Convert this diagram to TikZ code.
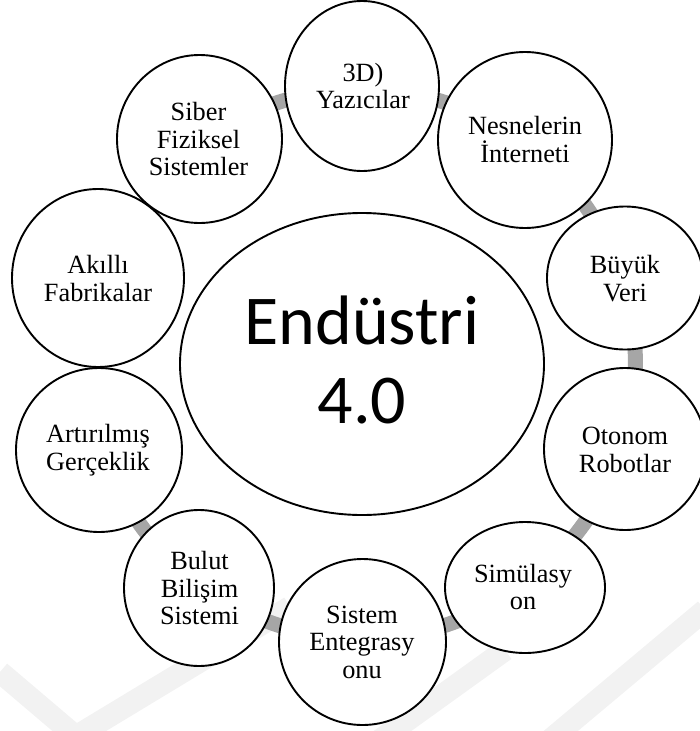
\documentclass[tikz,border=0pt]{standalone}
\usepackage{fontspec}
\setmainfont{Liberation Serif}
\newfontfamily\calib{Carlito}
\usetikzlibrary{shapes.geometric}
\pgfdeclarelayer{bg}
\pgfsetlayers{bg,main}
\definecolor{ringgray}{HTML}{A6A6A6}
\definecolor{wmgray}{HTML}{F2F2F2}
\tikzset{
  bub/.style={draw=black, line width=1.9pt, fill=white, ellipse, inner sep=0pt},
  lbl/.style={align=center, font=\fontsize{26.3}{27.5}\selectfont, inner sep=0pt},
  ring/.style={draw=ringgray, line width=15pt},
  wmark/.style={draw=wmgray, line width=22pt},
}
\begin{document}
\begin{tikzpicture}[x=1pt,y=-1pt]
\useasboundingbox (0,0) rectangle (699,731);
% circles
\node[bub, minimum width=154pt, minimum height=170pt] (yaz) at (362,86) {};
\node[bub, minimum width=174pt, minimum height=176pt] (nes) at (525,140) {};
\node[bub, minimum width=156pt, minimum height=143pt] (buy) at (625,278) {};
\node[bub, minimum width=162pt, minimum height=162pt] (oto) at (625,449) {};
\node[bub, minimum width=160pt, minimum height=131pt] (sim) at (525,587.5) {};
\node[bub, minimum width=167pt, minimum height=166pt] (sis) at (362.5,642) {};
\node[bub, minimum width=150pt, minimum height=156pt] (bul) at (199,588) {};
\node[bub, minimum width=166pt, minimum height=164pt] (art) at (99,450) {};
\node[bub, minimum width=172pt, minimum height=178pt] (akl) at (98,278) {};
\node[bub, minimum width=165pt, minimum height=168pt] (sib) at (199.5,139) {};
\node[bub, minimum width=364pt, minimum height=302pt] (core) at (362,364) {};
% labels
\node[lbl] (yazT) at (363,86) {3D)\\Yazıcılar};
\node[lbl] (nesT) at (525,139.5) {Nesnelerin\\İnterneti};
\node[lbl] (buyT) at (625,278.5) {Büyük\\Veri};
\node[lbl] (otoT) at (625,450) {Otonom\\Robotlar};
\node[lbl] (simT) at (523,587) {Simülasy\\on};
\node[lbl] (sisT) at (362,642) {Sistem\\Entegrasy\\onu};
\node[lbl] (bulT) at (199.5,588) {Bulut\\Bilişim\\Sistemi};
\node[lbl] (artT) at (98,450) {Artırılmış\\Gerçeklik};
\node[lbl] (aklT) at (98,278.5) {Akıllı\\Fabrikalar};
\node[lbl] (sibT) at (198.5,139.5) {Siber\\Fiziksel\\Sistemler};
\node[align=center, inner sep=0pt, font=\calib\fontsize{70}{79}\selectfont] (coreT) at (362,360) {Endüstri\\4.0};
% connectors and watermark behind
\begin{pgfonlayer}{bg}
  \draw[wmark] (0,672) -- (80,740);
  \draw[wmark] (70,740) -- (290,607);
  \draw[wmark] (380,740) -- (505,650);
  \draw[wmark] (550,740) -- (705,610);
  \draw[ring] (yaz.center) to[bend left=12] (nes.center);
  \draw[ring] (nes.center) to[bend left=12] (buy.center);
  \draw[ring] (buy.center) to[bend left=12] (oto.center);
  \draw[ring] (oto.center) to[bend left=12] (sim.center);
  \draw[ring] (sim.center) to[bend left=12] (sis.center);
  \draw[ring] (sis.center) to[bend left=12] (bul.center);
  \draw[ring] (bul.center) to[bend left=12] (art.center);
  \draw[ring] (sib.center) to[bend left=12] (yaz.center);
\end{pgfonlayer}
\end{tikzpicture}
\end{document}
